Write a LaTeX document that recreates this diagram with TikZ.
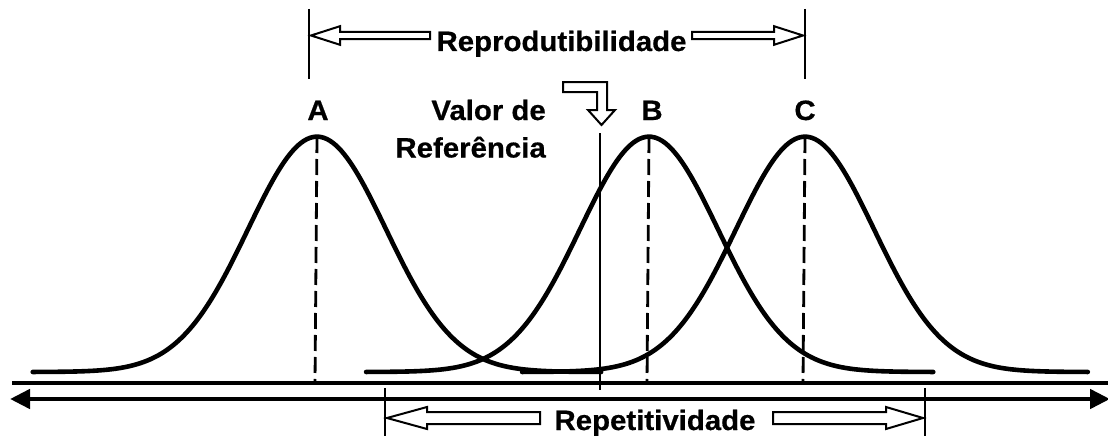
\documentclass[tikz,border=0pt]{standalone}
\usepackage{fontspec}
\setmainfont{Liberation Sans}[FakeStretch=1.05, BoldFeatures={FakeBold=0.6}]
\usetikzlibrary{arrows.meta}
\tikzset{
  bell/.style={line width=4.6pt, line join=round, line cap=round},
  meanline/.style={line width=2.8pt, dash pattern=on 16pt off 6pt},
  tick/.style={line width=2.8pt},
  axis/.style={line width=4.6pt},
  blockarrow/.style={draw, fill=white, line width=2pt, line join=miter},
  lbl/.style={font=\fontsize{28}{28}\selectfont\bfseries, inner sep=0pt},
}
\begin{document}
\begin{tikzpicture}[x=1pt, y=-1pt]
\useasboundingbox (0,0) rectangle (1108,436);

% bell curves
\draw[bell] plot[domain=-4.12:4.12, samples=200] ({317+69*\x},{372-235.3*exp(-0.5*\x*\x)});
\draw[bell] plot[domain=-4.1:4.12, samples=200] ({649+69*\x},{372-235.3*exp(-0.5*\x*\x)});
\draw[bell] plot[domain=-4.1:4.1, samples=200] ({805+69*\x},{372-235.3*exp(-0.5*\x*\x)});

% mean lines
\coordinate (Atop) at (317,137); \coordinate (Abot) at (315,383);
\coordinate (Btop) at (649,137); \coordinate (Bbot) at (647,383);
\coordinate (Ctop) at (805,137); \coordinate (Cbot) at (803,383);
\draw[meanline] (Atop) -- (Abot);
\draw[meanline] (Btop) -- (Bbot);
\draw[meanline] (Ctop) -- (Cbot);

% reference value line
\coordinate (refT) at (600,133); \coordinate (refB) at (600,390);
\draw[tick] (refT) -- (refB);

% axis lines
\coordinate (baseL) at (12,383); \coordinate (baseR) at (1112,383);
\draw[axis] (baseL) -- (baseR);
\coordinate (axL) at (10,399); \coordinate (axR) at (1110,399);
\draw[axis, {Triangle[length=20pt,width=19pt]}-{Triangle[length=20pt,width=19pt]}] (axL) -- (axR);

% reproducibility ticks
\coordinate (rpL1) at (309,9); \coordinate (rpL2) at (309,79);
\coordinate (rpR1) at (805,9); \coordinate (rpR2) at (805,79);
\draw[tick] (rpL1) -- (rpL2);
\draw[tick] (rpR1) -- (rpR2);

% repeatability ticks
\coordinate (rtL1) at (385,388); \coordinate (rtL2) at (385,440);
\coordinate (rtR1) at (925,388); \coordinate (rtR2) at (925,440);
\draw[tick] (rtL1) -- (rtL2);
\draw[tick] (rtR1) -- (rtR2);

% block arrows (top)
\draw[blockarrow] (311,35.5) -- (340,26.2) -- (340,31.8) -- (430,31.8) -- (430,39.2) -- (340,39.2) -- (340,44.8) -- cycle;
\draw[blockarrow] (803,35.5) -- (774,26.2) -- (774,31.8) -- (692,31.8) -- (692,39.2) -- (774,39.2) -- (774,44.8) -- cycle;

% block arrows (bottom)
\draw[blockarrow] (387,418) -- (427,407) -- (427,412) -- (540,412) -- (540,424) -- (427,424) -- (427,429) -- cycle;
\draw[blockarrow] (923,418) -- (886,407) -- (886,412) -- (773,412) -- (773,424) -- (886,424) -- (886,429) -- cycle;

% bent arrow to reference value
\draw[blockarrow] (563,82) -- (607,82) -- (607,110) -- (615,110) -- (601.5,125) -- (588,110) -- (597,110) -- (597,92) -- (563,92) -- cycle;

% labels
\node[lbl, anchor=base] (reprod) at (561.5,51) {Reprodutibilidade};
\node[lbl, anchor=base] (repet) at (655,430) {Repetitividade};
\node[lbl, anchor=base east] (valor) at (546,120) {Valor de};
\node[lbl, anchor=base east] (refer) at (546,157.5) {Referência};
\node[lbl, anchor=base] (labA) at (318,120) {A};
\node[lbl, anchor=base] (labB) at (652,120) {B};
\node[lbl, anchor=base] (labC) at (805,120) {C};
\end{tikzpicture}
\end{document}
